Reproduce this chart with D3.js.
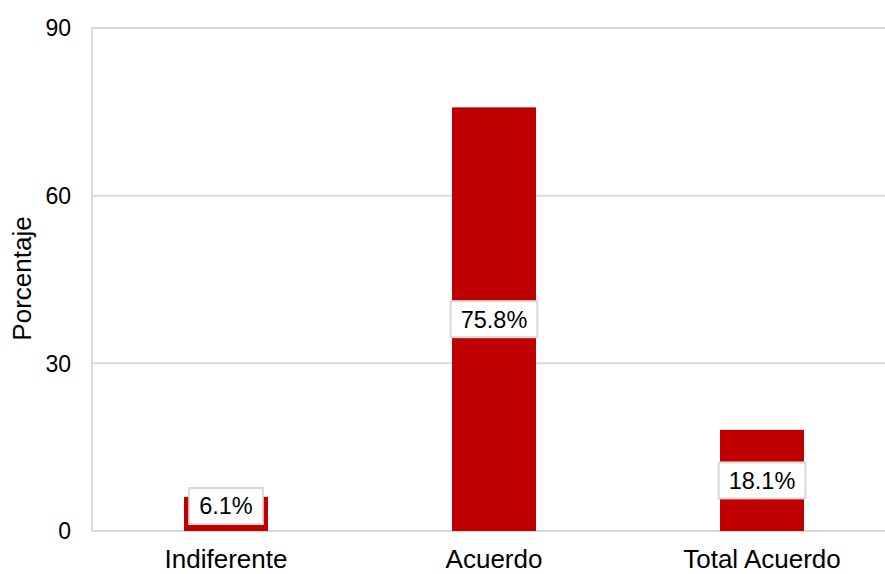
<!DOCTYPE html>
<html>
<head>
<meta charset="utf-8">
<script src="https://cdn.jsdelivr.net/npm/d3@7"></script>
<style>
  body { margin: 0; background: #fff; }
  text { font-family: "Liberation Sans", Arial, sans-serif; fill: #000; }
</style>
</head>
<body>
<div id="chart"></div>
<script>
// chart data
var categories = ["Indiferente", "Acuerdo", "Total Acuerdo"];
var values = [6.1, 75.8, 18.1];
var yTicks = [0, 30, 60, 90];

var W = 885, H = 574;
var margin = { top: 28, right: -11, bottom: 43, left: 92 };

var svg = d3.select("#chart")
    .append("svg")
    .attr("width", W)
    .attr("height", H);

var x = d3.scaleBand()
    .domain(categories)
    .range([margin.left, W - margin.right])
    .paddingInner(0.6866)
    .paddingOuter(0.3433);

var y = d3.scaleLinear()
    .domain([0, 90])
    .range([H - margin.bottom, margin.top]);

// gridlines
svg.append("g")
    .selectAll("line")
    .data(yTicks)
    .enter()
    .append("line")
    .attr("x1", margin.left)
    .attr("x2", W)
    .attr("y1", d => y(d))
    .attr("y2", d => y(d))
    .style("stroke", "#d9d9d9")
    .style("stroke-width", 2);

// left axis line
svg.append("line")
    .attr("x1", margin.left)
    .attr("x2", margin.left)
    .attr("y1", y(90))
    .attr("y2", y(0))
    .style("stroke", "#d9d9d9")
    .style("stroke-width", 2);

// y tick labels
svg.append("g")
    .selectAll("text")
    .data(yTicks)
    .enter()
    .append("text")
    .attr("x", 71)
    .attr("y", d => y(d))
    .attr("dy", "0.36em")
    .attr("text-anchor", "end")
    .style("font-size", "23px")
    .text(d => d);

// y axis title
svg.append("text")
    .attr("transform", "translate(31," + ((y(0) + y(90)) / 2 - 1) + ") rotate(-90)")
    .attr("text-anchor", "middle")
    .style("font-size", "26px")
    .text("Porcentaje");

// bars
svg.append("g")
    .selectAll("rect")
    .data(values)
    .enter()
    .append("rect")
    .attr("x", (d, i) => x(categories[i]))
    .attr("width", x.bandwidth())
    .attr("y", d => y(d))
    .attr("height", d => y(0) - y(d))
    .style("fill", "#c00000");

// category labels
svg.append("g")
    .selectAll("text")
    .data(categories)
    .enter()
    .append("text")
    .attr("x", d => x(d) + x.bandwidth() / 2)
    .attr("y", 568)
    .attr("text-anchor", "middle")
    .style("font-size", "26px")
    .text(d => d);

// value labels in boxes
var boxH = 36;
var labels = svg.append("g")
    .selectAll("g")
    .data(values)
    .enter()
    .append("g");

labels.each(function (d, i) {
    var g = d3.select(this);
    var cx = x(categories[i]) + x.bandwidth() / 2;
    var cy = Math.min((y(d) + y(0)) / 2, y(0) - 7 - boxH / 2);
    var rect = g.append("rect");
    var t = g.append("text")
        .attr("x", cx)
        .attr("y", cy)
        .attr("dy", "0.36em")
        .attr("text-anchor", "middle")
        .style("font-size", "23.5px")
        .text(d.toFixed(1) + "%");
    var w = t.node().getBBox().width + 20;
    rect.attr("x", cx - w / 2)
        .attr("y", cy - boxH / 2)
        .attr("width", w)
        .attr("height", boxH)
        .style("fill", "#fff")
        .style("stroke", "#d9d9d9")
        .style("stroke-width", 2);
});
</script>
</body>
</html>
